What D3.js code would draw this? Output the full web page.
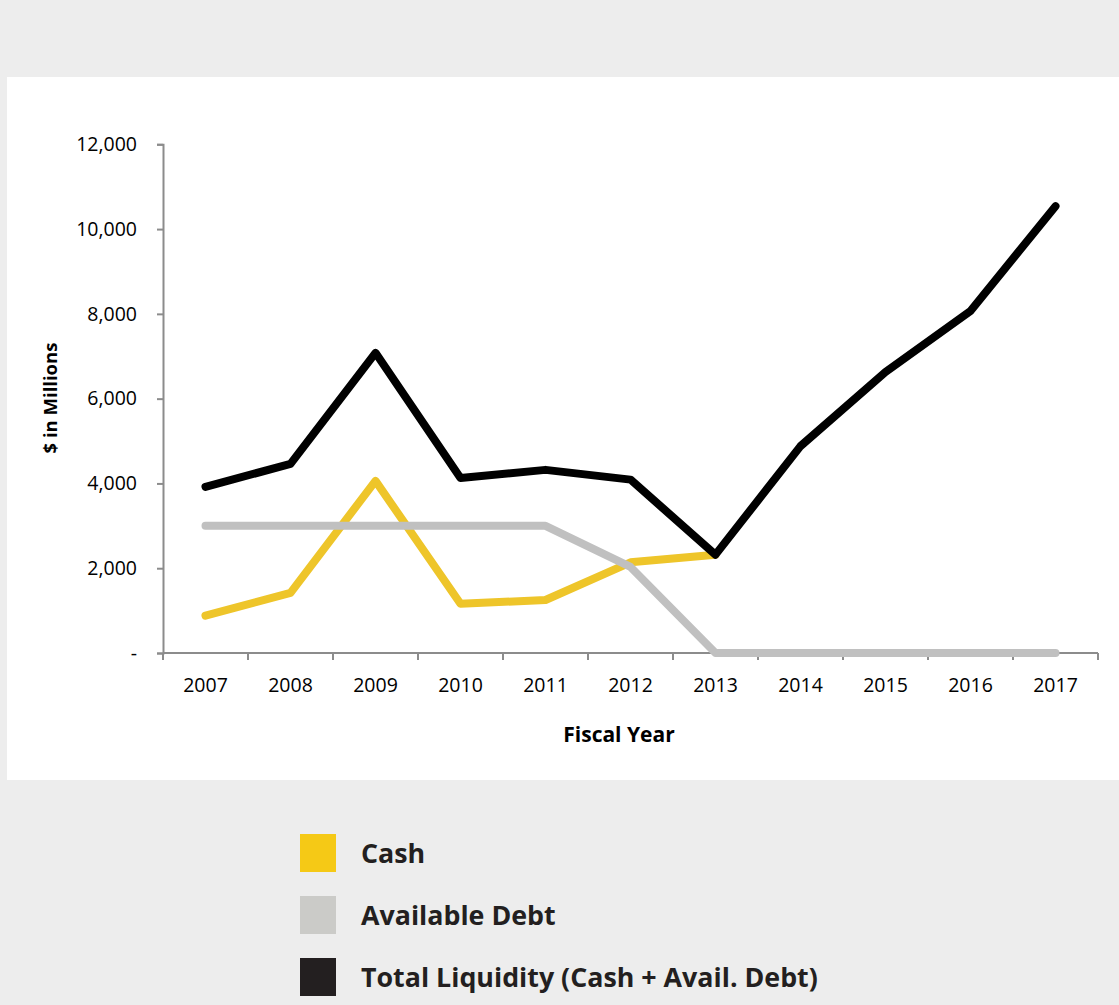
<!DOCTYPE html>
<html>
<head>
<meta charset="utf-8">
<script src="https://cdn.jsdelivr.net/npm/d3@7"></script>
<style>
  html, body { margin: 0; padding: 0; background: #ededed; }
  svg { display: block; font-family: "Open Sans", "Liberation Sans", sans-serif; }
</style>
</head>
<body>
<svg id="chart" width="1119" height="1005"></svg>
<script>
// Fiscal years on the x axis
const years = ["2007","2008","2009","2010","2011","2012","2013","2014","2015","2016","2017"];

// $ in millions
const cash          = [880, 1420, 4060, 1160, 1250, 2140, 2320];
const availableDebt = [3000, 3000, 3000, 3000, 3000, 2030, 0, 0, 0, 0, 0];
const totalLiquidity = [3920, 4460, 7080, 4130, 4320, 4090, 2320, 4880, 6630, 8070, 10540];

const yTicks = [0, 2000, 4000, 6000, 8000, 10000, 12000];

const seriesNames  = ["Cash", "Available Debt", "Total Liquidity (Cash + Avail. Debt)"];
const lineColors   = ["#eec52a", "#c0c0c0", "#000000"];
const legendColors = ["#f5c916", "#cbcbc8", "#231f20"];

const svg = d3.select("#chart");

// white plotting panel
svg.append("rect")
  .attr("x", 7).attr("y", 77)
  .attr("width", 1112).attr("height", 703)
  .attr("fill", "#ffffff");

const x = d3.scaleBand().domain(years).range([163, 1098]);
const y = d3.scaleLinear().domain([0, 12000]).range([653, 144.3]);

const axisColor = "#8c8c8c";

// y axis
const yAxis = svg.append("g")
  .attr("transform", "translate(163,0)")
  .call(d3.axisLeft(y).tickValues(yTicks).tickSize(6).tickPadding(20)
    .tickFormat(d => d === 0 ? "-" : d3.format(",")(d)));
yAxis.select(".domain").attr("stroke", axisColor).attr("stroke-width", 2);
yAxis.selectAll(".tick line").attr("stroke", axisColor).attr("stroke-width", 2);
yAxis.selectAll(".tick text")
  .attr("font-size", 19.5).attr("fill", "#000")
  .attr("font-family", "'Open Sans', sans-serif");

// x axis: tick marks sit on band boundaries, labels at band centres
const xAxisG = svg.append("g").attr("transform", "translate(0,653)");
xAxisG.append("line")
  .attr("x1", 163).attr("x2", 1098).attr("y1", 0).attr("y2", 0)
  .attr("stroke", axisColor).attr("stroke-width", 2);
const boundaries = years.map(d => x(d)).concat([x.range()[1]]);
xAxisG.selectAll("line.tk").data(boundaries).join("line")
  .attr("class", "tk")
  .attr("x1", d => d).attr("x2", d => d)
  .attr("y1", 0).attr("y2", 7)
  .attr("stroke", axisColor).attr("stroke-width", 2);
xAxisG.selectAll("text").data(years).join("text")
  .attr("x", d => x(d) + x.bandwidth() / 2)
  .attr("y", 39)
  .attr("text-anchor", "middle")
  .attr("font-size", 19.5)
  .attr("fill", "#000")
  .text(d => d);

// axis titles
svg.append("text")
  .attr("transform", "translate(57,398) rotate(-90)")
  .attr("text-anchor", "middle")
  .attr("font-size", 18.5).attr("font-weight", "bold")
  .text("$ in Millions");
svg.append("text")
  .attr("x", 619).attr("y", 742)
  .attr("text-anchor", "middle")
  .attr("font-size", 21).attr("font-weight", "bold")
  .text("Fiscal Year");

// lines
const line = d3.line()
  .x((d, i) => x(years[i]) + x.bandwidth() / 2)
  .y(d => y(d));

[cash, availableDebt, totalLiquidity].forEach((vals, i) => {
  svg.append("path")
    .datum(vals)
    .attr("d", line)
    .attr("fill", "none")
    .attr("stroke", lineColors[i])
    .attr("stroke-width", 8)
    .attr("stroke-linejoin", "round")
    .attr("stroke-linecap", "round");
});

// legend
const legend = svg.append("g");
seriesNames.forEach((name, i) => {
  const yy = 834 + i * 62;
  legend.append("rect")
    .attr("x", 300).attr("y", yy)
    .attr("width", 36).attr("height", 38)
    .attr("fill", legendColors[i]);
  legend.append("text")
    .attr("x", 361).attr("y", yy + 29)
    .attr("font-size", 26.8).attr("font-weight", "bold")
    .attr("fill", "#231f20")
    .text(name);
});
</script>
</body>
</html>
